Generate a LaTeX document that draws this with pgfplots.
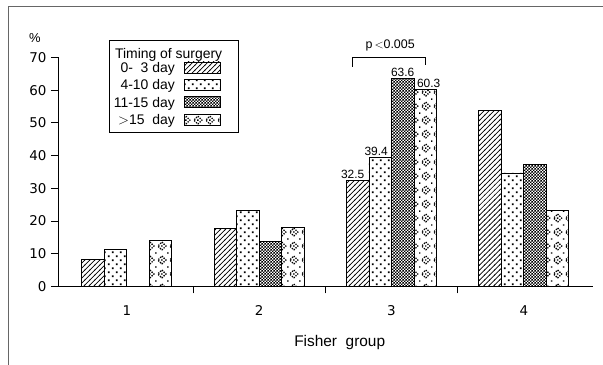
\documentclass[border=0pt]{standalone}
\usepackage{pgfplots}
\pgfplotsset{compat=1.18}
\usepackage{fontspec}
\setmainfont{Liberation Sans}
\newfontfamily\tickfont{DejaVu Sans}
\usetikzlibrary{patterns,calc}

\pgfdeclarepatternformonly{hatchne}{\pgfpoint{-1bp}{-1bp}}{\pgfpoint{6bp}{6bp}}{\pgfpoint{5bp}{5bp}}{%
  \pgfsetlinewidth{0.7bp}%
  \pgfpathmoveto{\pgfpoint{-0.5bp}{-0.5bp}}\pgfpathlineto{\pgfpoint{5.5bp}{5.5bp}}%
  \pgfusepath{stroke}}
\pgfdeclarepatternformonly{sparsedots}{\pgfpoint{0bp}{0bp}}{\pgfpoint{8bp}{8bp}}{\pgfpoint{8bp}{8bp}}{%
  \pgfpathrectangle{\pgfpoint{1bp}{1bp}}{\pgfpoint{1.7bp}{1.7bp}}%
  \pgfpathrectangle{\pgfpoint{5bp}{5bp}}{\pgfpoint{1.7bp}{1.7bp}}%
  \pgfusepath{fill}}
\pgfdeclarepatternformonly{checker}{\pgfpoint{0bp}{0bp}}{\pgfpoint{3bp}{3bp}}{\pgfpoint{3bp}{3bp}}{%
  \pgfpathrectangle{\pgfpoint{0bp}{0bp}}{\pgfpoint{1.4bp}{1.4bp}}%
  \pgfpathrectangle{\pgfpoint{1.5bp}{1.5bp}}{\pgfpoint{1.4bp}{1.4bp}}%
  \pgfusepath{fill}}
\pgfdeclarepatternformonly{diamonds}{\pgfpoint{-1bp}{-1bp}}{\pgfpoint{13bp}{15bp}}{\pgfpoint{12bp}{14bp}}{%
  \pgfsetlinewidth{1.3bp}%
  \pgfsetdash{{1.3bp}{1.2bp}}{0bp}%
  \pgfpathmoveto{\pgfpoint{6bp}{3bp}}\pgfpathlineto{\pgfpoint{10bp}{7bp}}%
  \pgfpathlineto{\pgfpoint{6bp}{11bp}}\pgfpathlineto{\pgfpoint{2bp}{7bp}}\pgfpathclose
  \pgfusepath{stroke}%
  \pgfpathrectangle{\pgfpoint{5.3bp}{6.3bp}}{\pgfpoint{1.4bp}{1.4bp}}%
  \pgfpathrectangle{\pgfpoint{-0.7bp}{-0.7bp}}{\pgfpoint{1.4bp}{1.4bp}}%
  \pgfusepath{fill}}

\begin{document}
\begin{tikzpicture}
\begin{axis}[name=ax,
  scale only axis, width=535bp, height=229bp,
  xmin=0.48, xmax=4.52, ymin=0, ymax=70,
  clip=false,
  axis lines=left,
  axis line style={-, line width=0.8pt},
  tick align=outside,
  tick style={black, line width=0.8pt},
  major tick length=7bp, minor tick length=7bp,
  xtick={1,2,3,4},
  major x tick style={draw=none},
  minor xtick={1.5,2.5,3.5},
  ytick={0,10,...,70},
  /pgf/number format/assume math mode=true,
  tick label style={font=\tickfont\fontsize{13.5}{16}\selectfont},
  yticklabel style={xshift=-1bp},
  xticklabel style={yshift=-9bp},
  xlabel={Fisher\ \ group},
  xlabel style={font=\fontsize{15.5}{17}\selectfont, at={(axis description cs:0.527,0)}, anchor=center, yshift=-56bp},
  ybar=0pt, bar width=0.17,
  every axis plot/.append style={draw=black, line width=0.7pt},
  point meta=explicit symbolic,
  nodes near coords,
  every node near coord/.append style={font=\fontsize{12}{13}\selectfont, inner sep=1.5bp, anchor=south},
  legend plot pos=right,
  legend cell align=right,
  legend image code/.code={\draw[#1] (0bp,-4bp) rectangle (36bp,7bp); \path (50bp,0bp);},
  legend style={at={(axis description cs:0.0953,1)}, anchor=north west, yshift=17.5bp,
    draw=black, line width=0.8pt, inner sep=3bp, row sep=1.5bp, column sep=8bp,
    font=\fontsize{14}{16}\selectfont,
    nodes={inner sep=1.5bp, text height=10bp, text depth=3bp},
    label={[anchor=north, yshift=-5bp, xshift=-5bp, font=\fontsize{14}{16}\selectfont]north:Timing of surgery}},
]
\addlegendimage{empty legend}
\addlegendentry{\strut}
\addplot[pattern=hatchne, every node near coord/.append style={xshift=-5bp}] coordinates {(1,8.1)[] (2,17.8)[] (3,32.5)[32.5] (4,53.8)[]};
\addlegendentry{0-\ \ 3 day}
\addplot[pattern=sparsedots, every node near coord/.append style={xshift=-4bp}] coordinates {(1,11.4)[] (2,23.1)[] (3,39.4)[39.4] (4,34.7)[]};
\addlegendentry{4-10 day}
\addplot[pattern=checker] coordinates {(1,0)[] (2,13.7)[] (3,63.6)[63.6] (4,37.4)[]};
\addlegendentry{11-15 day}
\addplot[pattern=diamonds, every node near coord/.append style={xshift=3.5bp}] coordinates {(1,14.0)[] (2,18.1)[] (3,60.3)[60.3] (4,23.2)[]};
\addlegendentry{$>$15\ \ day}
\draw[line width=0.8pt] (axis cs:2.708,67.1) -- (axis cs:2.708,69.9) -- (axis cs:3.26,69.9) -- (axis cs:3.26,67.7);
\node[font=\fontsize{12.5}{14}\selectfont] at (axis cs:2.99,73.6) {p\,$<$0.005};
\node[font=\fontsize{13}{14}\selectfont] at (axis description cs:0,1) [xshift=-23bp, yshift=19bp] {\%};
\end{axis}
\draw[black!60, line width=0.8pt] ($(ax.south west)+(-50bp,-78.3bp)$) -- ($(ax.north west)+(-50bp,50.8bp)$) -- ($(ax.north east)+(10bp,50.8bp)$);
\path[use as bounding box] ($(ax.south west)+(-58bp,-78.3bp)$) rectangle ($(ax.north east)+(10bp,57.5bp)$);
\end{tikzpicture}
\end{document}
